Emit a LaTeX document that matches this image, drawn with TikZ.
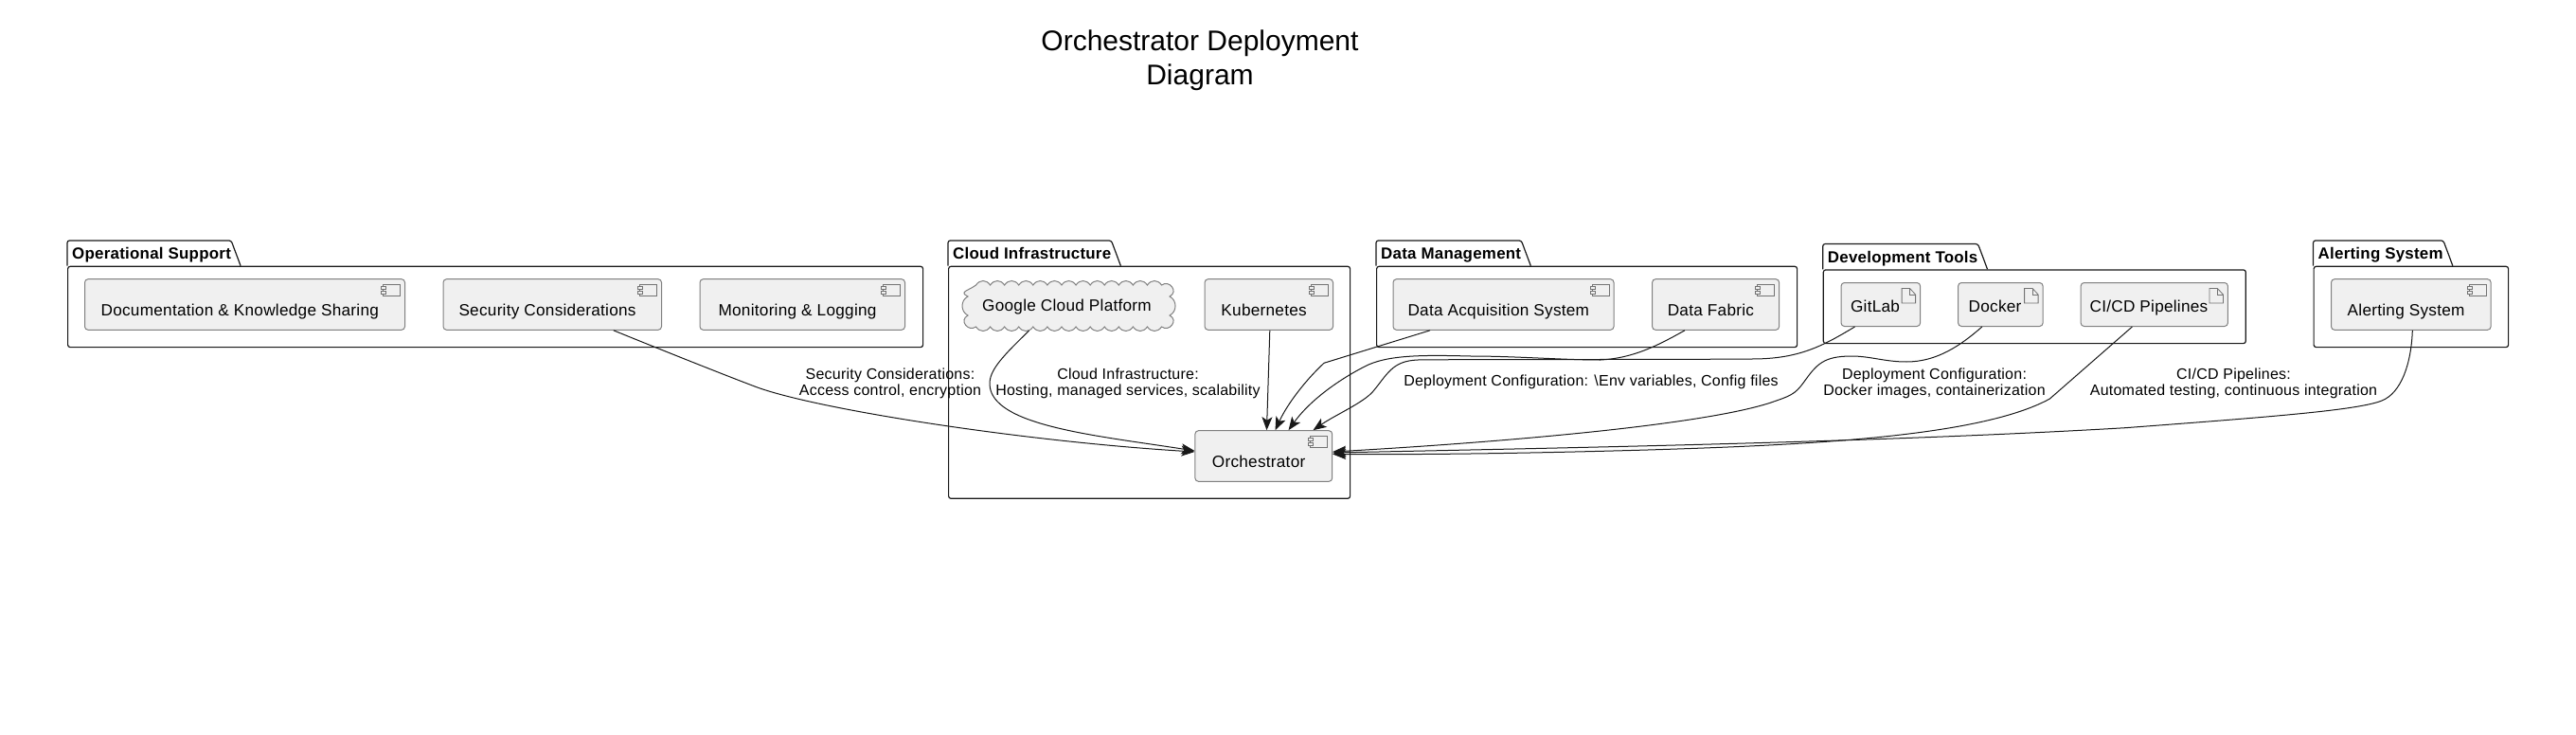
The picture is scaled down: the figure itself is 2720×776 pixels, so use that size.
\documentclass[tikz,border=0pt]{standalone}
\usepackage{fontspec}
\setmainfont[LetterSpace=1.5]{Liberation Sans}
\newfontfamily\titlefont{Liberation Sans}
\usetikzlibrary{positioning,arrows.meta}

\newcommand{\drawtab}[1]{\draw[pkgline] (#1.south west) -- (#1.north west) -- (#1.north east) -- ([xshift=10pt]#1.south east);}

\tikzset{%
  % Specifications for style of nodes:
     pkgline/.style = {draw=black!90, line width=1.2pt, rounded corners=2.5pt},
     pkgbody/.style = {rectangle, pkgline, anchor=north west, inner sep=0pt},
      pkgtab/.style = {anchor=south west, inner sep=0pt, minimum height=26.4pt, text height=12.4pt, text depth=0pt, font=\fontsize{16.9}{20}\selectfont\bfseries, execute at begin node=\hspace{5pt}},
     basebox/.style = {rectangle, rounded corners=3.5pt, draw=black!50, line width=1pt, fill=black!6, inner sep=0pt, font=\fontsize{17.2}{22}\selectfont},
     compbox/.style = {basebox, anchor=west, minimum height=53.6pt, text height=23.6pt, text depth=0pt, execute at end node=\hspace{10.4pt},
         path picture={
           \draw[iconline] ([xshift=-5pt,yshift=-6pt]path picture bounding box.north east) rectangle ++(-18,12);
           \draw[iconline, fill=black!6] ([xshift=-20pt,yshift=-8pt]path picture bounding box.north east) rectangle ++(-5,2.7);
           \draw[iconline, fill=black!6] ([xshift=-20pt,yshift=-12.6pt]path picture bounding box.north east) rectangle ++(-5,2.7);
         }},
     filebox/.style = {basebox, anchor=west, minimum height=46pt, text height=16pt, text depth=0pt, execute at end node=\hspace{11.6pt},
         path picture={
           \draw[iconline] ([xshift=-5pt,yshift=-21.5pt]path picture bounding box.north east) -- ++(-14.5,0) -- ++(0,-15.5) -- ++(8.5,0) -- ++(6,6.5) -- cycle;
           \draw[iconline] ([xshift=-11pt,yshift=-6pt]path picture bounding box.north east) -- ++(0,6.5) -- ++(6,0);
         }},
    iconline/.style = {draw=black!55, line width=.8pt, sharp corners},
   cloudline/.style = {draw=black!50, line width=1pt, fill=black!6},
    cloudbox/.style = {rectangle, inner sep=0pt, minimum width=224pt, minimum height=52pt, text height=11pt, text depth=0pt, font=\fontsize{17.2}{22}\selectfont},
   edgelabel/.style = {align=center, inner sep=0pt, font=\fontsize{16}{17}\selectfont},
        conn/.style = {draw=black!90, line width=1pt, -{Stealth[length=14pt, width=11pt, inset=3.5pt]}},
}

\begin{document}
\begin{tikzpicture}[x=1pt, y=-1pt]
    \useasboundingbox (0,0) rectangle (2720,776);

    % Title
    \node (title)     [align=center, inner sep=0pt, font=\fontsize{30}{36}\titlefont] at (1267,64) {Orchestrator Deployment\\Diagram};

    % Draw packages
    \node (opsbody)   [pkgbody, minimum width=903pt, minimum height=85.3pt]   at (71,280.7)   {};
    \node (cloudbody) [pkgbody, minimum width=424pt, minimum height=245pt]    at (1001,280.7) {};
    \node (databody)  [pkgbody, minimum width=444pt, minimum height=85.3pt]   at (1453,280.7) {};
    \node (devbody)   [pkgbody, minimum width=446pt, minimum height=77.7pt]   at (1924.7,284.3) {};
    \node (alertbody) [pkgbody, minimum width=205.5pt, minimum height=85.3pt] at (2442.5,280.7) {};

    \node (opstab)    [pkgtab, above right=0pt and 0pt of opsbody.north west]   {Operational Support};
    \node (cloudtab)  [pkgtab, above right=0pt and 0pt of cloudbody.north west] {Cloud Infrastructure};
    \node (datatab)   [pkgtab, above right=0pt and 0pt of databody.north west]  {Data Management};
    \node (devtab)    [pkgtab, above right=0pt and 0pt of devbody.north west]   {Development Tools};
    \node (alerttab)  [pkgtab, above right=0pt and 0pt of alertbody.north west] {Alerting System};
    \drawtab{opstab} \drawtab{cloudtab} \drawtab{datatab} \drawtab{devtab} \drawtab{alerttab}

    % Cloud outline
    \coordinate (gcpstart) at (1030.5,301);
    \path[cloudline] (gcpstart)
        \foreach \i in {1,...,13} { .. controls +(4,-6) and +(-4,-6) .. ++(15.08,0) }
        .. controls +(8,-6) and +(10,-5) .. ++(8.5,12)
        .. controls +(8,4) and +(8,-4) .. ++(0,20)
        .. controls +(10,5) and +(8,6) .. ++(-8.5,12)
        \foreach \i in {1,...,13} { .. controls +(-4,6) and +(4,6) .. ++(-15.08,0) }
        .. controls +(-8,6) and +(-10,5) .. ++(-8.5,-12)
        .. controls +(-8,-4) and +(-8,4) .. ++(0,-20)
        .. controls +(-10,-5) and +(-8,6) .. ++(8.5,-12);

    % Draw nodes
    \node (docs)      [compbox, minimum width=338pt]                          at (89,321.5)   {Documentation \& Knowledge Sharing};
    \node (security)  [compbox, minimum width=230.5pt, right=39.5pt of docs]                  {Security Considerations};
    \node (monitor)   [compbox, minimum width=216.5pt, right=39.5pt of security]              {Monitoring \& Logging};

    \node (gcp)       [cloudbox]                                              at (1126.5,323) {Google Cloud Platform};
    \node (kube)      [compbox, minimum width=135.4pt]                        at (1271.6,321.5) {Kubernetes};
    \node (orch)      [compbox, minimum width=144.8pt]                        at (1261.4,481.5) {Orchestrator};

    \node (acq)       [compbox, minimum width=233pt]                          at (1470.5,321.5) {Data Acquisition System};
    \node (fabric)    [compbox, minimum width=134pt, right=39.6pt of acq]                     {Data Fabric};

    \node (gitlab)    [filebox, minimum width=83.6pt]                         at (1943.5,321.5) {GitLab};
    \node (docker)    [filebox, minimum width=89.5pt, right=39pt of gitlab]                   {Docker};
    \node (cicd)      [filebox, minimum width=155.3pt, right=39pt of docker]                  {CI/CD Pipelines};

    \node (alerting)  [compbox, minimum width=168.6pt]                        at (2461,321.5) {Alerting System};

    % Draw labels
    \node (seclabel)   [edgelabel] at (940,405)    {Security Considerations:\\Access control, encryption};
    \node (cloudlabel) [edgelabel] at (1191,405)   {Cloud Infrastructure:\\Hosting, managed services, scalability};
    \node (envlabel)   [edgelabel] at (1680,403)   {Deployment Configuration: \textbackslash Env variables, Config files};
    \node (dockerlabel)[edgelabel] at (2042.5,405) {Deployment Configuration:\\Docker images, containerization};
    \node (cicdlabel)  [edgelabel] at (2358.5,405) {CI/CD Pipelines:\\Automated testing, continuous integration};

    % Draw arrows
    \draw[conn] ([xshift=64.5pt]security.south) .. controls (690,366) and (760,394) .. (797,408)
        .. controls (860,432) and (1080,466) .. ([yshift=4.5pt]orch.west);
    \draw[conn] ([xshift=-40pt]gcp.south) .. controls (1060,375) and (1045,390) .. (1045,405)
        .. controls (1045,450) and (1160,460) .. ([yshift=5.5pt]orch.west);
    \draw[conn] ([xshift=1pt]kube.south) -- ([xshift=3.2pt]orch.north);
    \draw[conn] ([xshift=-77.5pt]acq.south) -- (1398,383.3)
        .. controls (1380,400) and (1360,425) .. ([xshift=12.2pt]orch.north);
    \draw[conn] ([xshift=-32.6pt]fabric.south) .. controls (1750,365) and (1725,378) .. (1690,380)
        .. controls (1650,380) and (1600,376) .. (1553,376)
        .. controls (1510,375) and (1470,374) .. (1445,385)
        .. controls (1420,397) and (1385,420) .. ([xshift=26.2pt]orch.north);
    \draw[conn] ([xshift=-27.3pt]gitlab.south) .. controls (1925,365) and (1900,379) .. (1850,379)
        .. controls (1700,380) and (1600,379) .. (1497,380)
        .. controls (1470,381) and (1465,395) .. (1450,413)
        .. controls (1440,425) and (1410,438) .. ([xshift=52.2pt]orch.north);
    \draw[conn] ([xshift=-19.5pt]docker.south) .. controls (2070,365) and (2045,382) .. (2013,382)
        .. controls (1990,382) and (1975,376) .. (1955,376)
        .. controls (1925,376) and (1918,385) .. (1905,403)
        .. controls (1895,417) and (1890,418) .. (1870,425)
        .. controls (1800,448) and (1600,466) .. ([yshift=4.5pt]orch.east);
    \draw[conn] ([xshift=-23.4pt]cicd.south) -- (2164.4,421)
        .. controls (2090,462) and (1900,470) .. (1740,475)
        .. controls (1600,479) and (1500,480) .. ([yshift=2pt]orch.east);
    \draw[conn] ([xshift=1.5pt]alerting.south) .. controls (2546,385) and (2535,415) .. (2515,423)
        .. controls (2490,433) and (2400,440) .. (2244,451.7)
        .. controls (2000,466) and (1700,472) .. ([yshift=3.5pt]orch.east);

\end{tikzpicture}
\end{document}
